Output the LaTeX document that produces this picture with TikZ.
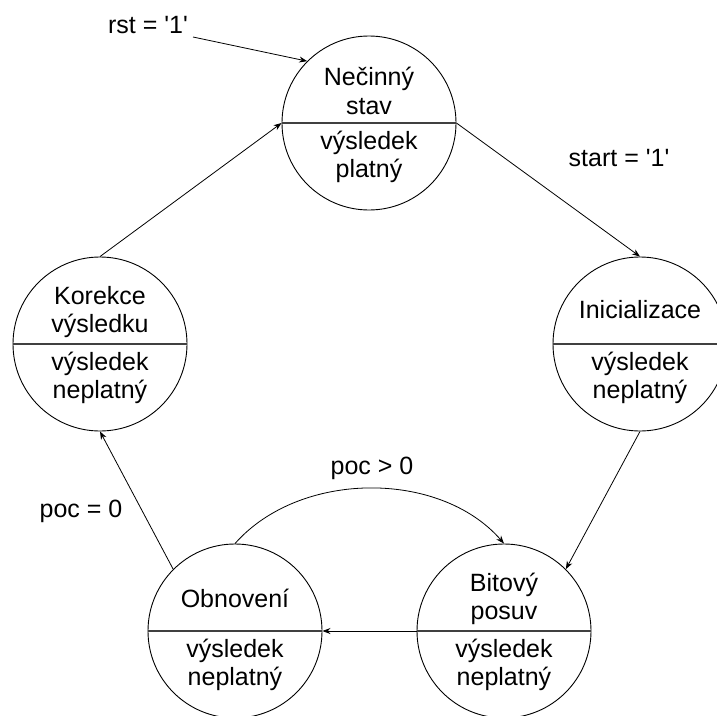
\documentclass[tikz,border=0pt]{standalone}
\usepackage{fontspec}
\setmainfont{Liberation Sans}
\usetikzlibrary{arrows.meta}

\begin{document}
\begin{tikzpicture}[x=1pt,y=-1pt,
  state/.style={circle,draw,line width=0.9pt,minimum size=174pt,inner sep=0pt},
  divider/.style={draw=black!75,line width=1.3pt},
  txt/.style={align=center,inner sep=0pt,font=\fontsize{25}{28.5}\selectfont},
  edge/.style={draw,line width=0.8pt,-{Stealth[length=8pt,width=6pt]}}]

\useasboundingbox (0,0) rectangle (717,715);

% states
\node[state] (N) at (369,123) {};
\node[state] (K) at (100,344) {};
\node[state] (I) at (640,344) {};
\node[state] (O) at (235,631) {};
\node[state] (B) at (504,631) {};

% horizontal dividers
\foreach \s in {N,K,I,O,B} \draw[divider] (\s.west) -- (\s.east);

% state names and outputs
\node[txt] (Nname) at (369,91)  {Nečinný\\stav};
\node[txt] (Nout)  at (369,157) {výsledek\\platný};
\node[txt] (Kname) at (100,312) {Korekce\\výsledku};
\node[txt] (Kout)  at (100,378) {výsledek\\neplatný};
\node[txt] (Iname) at (640,310) {Inicializace};
\node[txt] (Iout)  at (640,378) {výsledek\\neplatný};
\node[txt] (Oname) at (235,598) {Obnovení};
\node[txt] (Oout)  at (235,665) {výsledek\\neplatný};
\node[txt] (Bname) at (504,599) {Bitový\\posuv};
\node[txt] (Bout)  at (504,665) {výsledek\\neplatný};

% transition labels
\node[txt] (Lrst)   at (148,25)  {rst = \textquotesingle1\textquotesingle};
\node[txt] (Lstart) at (619,158) {start = \textquotesingle1\textquotesingle};
\node[txt] (Lzero)  at (81,511)  {poc = 0};
\node[txt] (Lpos)   at (372,468) {poc > 0};

% transitions
\coordinate (rstfrom) at (193,37);
\draw[edge] (rstfrom) -- (N.north west);
\draw[edge] (N.east) -- (I.north);
\draw[edge] (I.south) -- (B.north east);
\draw[edge] (B.west) -- (O.east);
\draw[edge] (O.north west) -- (K.south);
\draw[edge] (K.north) -- (N.west);
\draw[edge] (O.north) .. controls (300,470) and (440,470) .. (B.north);

\end{tikzpicture}
\end{document}
